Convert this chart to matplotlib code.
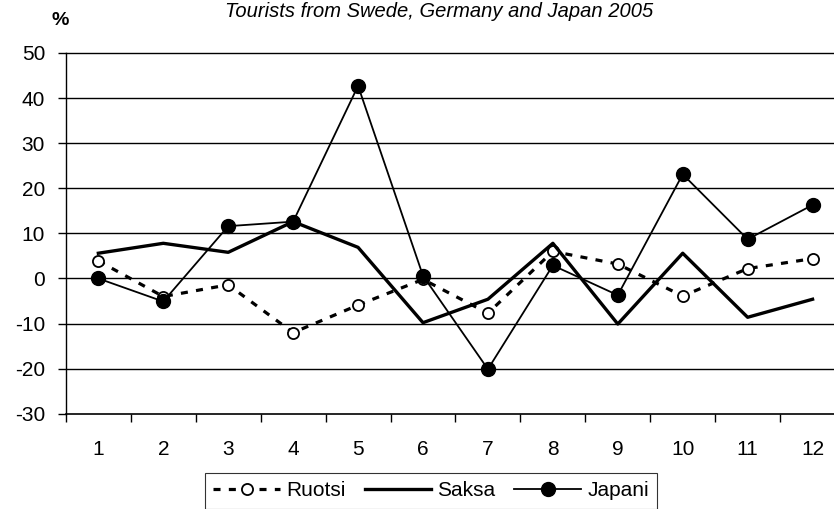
import numpy as np
import matplotlib.pyplot as plt
from matplotlib.ticker import FixedLocator

plt.rcParams['font.family'] = ['Liberation Sans', 'DejaVu Sans']
plt.rcParams['axes.unicode_minus'] = False

months = [1, 2, 3, 4, 5, 6, 7, 8, 9, 10, 11, 12]
ruotsi = [3.9, -4.0, -1.4, -12.0, -5.9, -0.2, -7.7, 6.0, 3.2, -3.9, 2.2, 4.4]
saksa = [5.6, 7.8, 5.8, 12.6, 6.9, -9.8, -4.6, 7.8, -10.1, 5.6, -8.6, -4.6]
japani = [0.0, -5.1, 11.6, 12.6, 42.7, 0.6, -20.1, 2.9, -3.7, 23.1, 8.7, 16.3]

fig = plt.figure(figsize=(8.34, 5.09), dpi=100)
ax = fig.add_axes([0.079, 0.187, 0.921, 0.709])

ax.plot(months, ruotsi, color='black', lw=2.3, ls=(0, (2.2, 2.6)),
        marker='o', ms=8, mfc='white', mec='black', mew=1.3, label='Ruotsi')
ax.plot(months, saksa, color='black', lw=2.4, label='Saksa')
ax.plot(months, japani, color='black', lw=1.3, marker='o', ms=10,
        mfc='black', mec='black', label='Japani')

ax.set_xlim(0.5, 12.33)
ax.set_ylim(-30, 50)
ax.set_yticks(np.arange(-30, 51, 10))
ax.set_xticks(months)
ax.xaxis.set_minor_locator(FixedLocator(np.arange(0.5, 12.5, 1)))
ax.tick_params(axis='x', which='major', length=0, labelsize=15, pad=19)
ax.tick_params(axis='x', which='minor', length=6, width=1, direction='out')
ax.tick_params(axis='y', length=6, width=1, direction='out', labelsize=15, pad=9)

for v in range(-20, 50, 10):
    ax.axhline(v, color='black', lw=1.0, zorder=0)

ax.spines['top'].set_linestyle((0, (1, 1)))
ax.spines['top'].set_linewidth(1.0)
ax.spines['right'].set_visible(False)
ax.spines['left'].set_linewidth(1.0)
ax.spines['bottom'].set_linewidth(1.2)

fig.text(0.526, 0.967, 'Tourists from Swede, Germany and Japan 2005',
         ha='center', va='baseline', fontsize=14.5, style='italic')
fig.text(0.072, 0.96, '%', ha='center', va='center', fontsize=14,
         fontweight='bold')

leg = fig.legend(loc='upper left', bbox_to_anchor=(0.246, 0.071), ncol=3,
                 frameon=True, fancybox=False, edgecolor='black',
                 fontsize=15, handlelength=3.2, handletextpad=0.3,
                 columnspacing=0.9, borderpad=0.4, borderaxespad=0)
leg.get_frame().set_linewidth(0.8)

plt.savefig('out.png', dpi=100)
